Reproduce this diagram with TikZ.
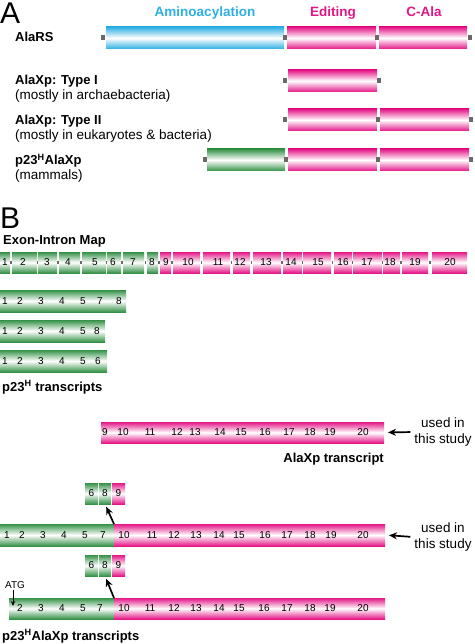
\documentclass[tikz,border=0pt]{standalone}
\usepackage{fontspec}
\setmainfont{Liberation Sans}
\definecolor{AlaCyan}{RGB}{45,175,228}
\definecolor{AlaPink}{RGB}{228,22,135}
\definecolor{AlaGreen}{RGB}{52,145,70}
\definecolor{AlaLink}{RGB}{105,105,105}
\usetikzlibrary{
    arrows.meta,
    positioning,
    calc,
}

\begin{document}
\begin{tikzpicture}[x=1pt, y=-1pt,
    tube/.style={top color=#1, bottom color=#1, middle color=white,
        inner sep=0pt, outer sep=0pt, minimum height=21pt, anchor=north west},
    head/.style={font=\fontsize{13.5}{16}\selectfont\bfseries, anchor=base, inner sep=0pt},
    lbl/.style={font=\fontsize{13}{15}\selectfont\bfseries, anchor=base west, inner sep=0pt},
    note/.style={font=\fontsize{13.5}{16}\selectfont, anchor=base west, inner sep=0pt},
    num/.style={font=\fontsize{10}{11}\selectfont, inner sep=0pt},
    panel/.style={font=\fontsize{30}{32}\selectfont, anchor=base west, inner sep=0pt},
    used/.style={font=\fontsize{13.5}{16}\selectfont, align=center, inner sep=1pt},
    arr/.style={-{Stealth[length=8pt,width=7pt]}, line width=1.7pt},
]
    \useasboundingbox (0,0) rectangle (474,644);

    % ---- A: domain architecture
    \node[panel] (pA) at (0,23.5) {A};
    \node[head, text=AlaCyan] (hAmino) at (205,17) {Aminoacylation};
    \node[head, text=AlaPink] (hEdit) at (333,17) {Editing};
    \node[head, text=AlaPink] (hCala) at (424,17) {C-Ala};

    \node[lbl] (lRS) at (15,42) {AlaRS};
    \node[lbl] (lT1) at (15,85) {AlaXp: Type I};
    \node[note] (nT1) at (15,100) {(mostly in archaebacteria)};
    \node[lbl] (lT2) at (15,125) {AlaXp: Type II};
    \node[note] (nT2) at (15,140) {(mostly in eukaryotes \& bacteria)};
    \node[lbl] (lP23) at (15,165) {p23\textsuperscript{H}AlaXp};
    \node[note] (nP23) at (15,180) {(mammals)};

    \node[tube=AlaCyan, minimum width=178pt, minimum height=22pt] (rsAmino) at (106,27) {};
    \node[tube=AlaPink, minimum width=89pt, minimum height=22pt] (rsEdit) at (287,27) {};
    \node[tube=AlaPink, minimum width=88pt, minimum height=22pt] (rsCala) at (379,27) {};
    \node[tube=AlaPink, minimum width=89pt, minimum height=22pt] (t1Edit) at (288,70) {};
    \node[tube=AlaPink, minimum width=89pt, minimum height=22pt] (t2Edit) at (288,109) {};
    \node[tube=AlaPink, minimum width=89pt, minimum height=22pt] (t2Cala) at (380,109) {};
    \node[tube=AlaGreen, minimum width=78pt, minimum height=22pt] (pN) at (207,149) {};
    \node[tube=AlaPink, minimum width=89pt, minimum height=22pt] (pEdit) at (288,149) {};
    \node[tube=AlaPink, minimum width=89pt, minimum height=22pt] (pCala) at (380,149) {};

    % linker ends
    \foreach \x/\y in {103/38, 285/38, 377/38, 470/38, 285/81, 379/81,
                       285/120, 378/120, 471/120, 205/160, 286/160, 378/160, 471/160}
        \fill[AlaLink] (\x-2,\y-2.5) rectangle (\x+2,\y+2.5);

    % ---- B: exon-intron map
    \node[panel] (pB) at (0,228) {B};
    \node[lbl] (lMap) at (3,244) {Exon-Intron Map};

    \foreach \n/\a/\b/\c in {1/0/10/5, 2/12/37/23, 3/38/57/47, 4/59/80/68,
                             5/82/106/95, 6/107/121/113, 7/123/144/133, 8/147/158/152} {
        \node[tube=AlaGreen, minimum width={(\b-\a)*1pt}] (ex\n) at (\a,252) {};
        \node[num] (exn\n) at (\c,262.5) {\n};
    }
    \foreach \n/\a/\b/\c in {9/160/171/166, 10/173/200/188, 11/203/230/218, 12/233/250/240,
                             13/253/281/266, 14/283/302/291, 15/303/331/318, 16/334/352/343,
                             17/353/382/367, 18/383/400/390, 19/402/428/415, 20/432/467/450} {
        \node[tube=AlaPink, minimum width={(\b-\a)*1pt}] (ex\n) at (\a,252) {};
        \node[num] (exn\n) at (\c,262.5) {\n};
    }
    \foreach \x in {11, 37.5, 58, 81, 106.5, 122, 145.5, 159, 172, 201.5, 231.5,
                    251.5, 282, 302.5, 332.5, 352.5, 382.5, 401, 430}
        \fill[AlaLink] (\x-0.6,261) rectangle (\x+0.6,264);

    % p23H transcripts
    \node[tube=AlaGreen, minimum width=126pt, minimum height=22pt] (tr1) at (0,290) {};
    \foreach \n/\x in {1/5, 2/20, 3/41, 4/62, 5/83, 7/100, 8/119}
        \node[num] at (\x,301) {\n};
    \node[tube=AlaGreen, minimum width=105pt, minimum height=22pt] (tr2) at (0,320) {};
    \foreach \n/\x in {1/5, 2/20, 3/41, 4/62, 5/83, 8/97}
        \node[num] at (\x,331) {\n};
    \node[tube=AlaGreen, minimum width=107pt, minimum height=22pt] (tr3) at (0,350) {};
    \foreach \n/\x in {1/5, 2/20, 3/41, 4/62, 5/83, 6/98}
        \node[num] at (\x,361) {\n};
    \node[lbl] (lTr) at (2,391) {p23\textsuperscript{H} transcripts};

    % AlaXp transcript
    \node[tube=AlaPink, minimum width=283pt] (axp) at (101,422) {};
    \foreach \n/\x in {9/105, 10/123, 11/150, 12/177, 13/195, 14/220,
                       15/241, 16/265, 17/289, 18/310, 19/330, 20/363}
        \node[num] at (\x,432.5) {\n};
    \node[used] (use1) at (443,432) {used in\\this study};
    \draw[arr, shorten <=3pt, shorten >=4pt] (use1.west) -- (axp.east);
    \node[lbl, anchor=base east] (lAxp) at (384,462) {AlaXp transcript};

    % fused transcript, used in this study
    \node[tube=AlaGreen, minimum width=13pt] (u6) at (85,483) {};
    \node[tube=AlaGreen, minimum width=12pt] (u8) at (99,483) {};
    \node[tube=AlaPink, minimum width=13pt] (u9) at (112,483) {};
    \foreach \n/\x in {6/91.5, 8/105, 9/118.5}
        \node[num] at (\x,493.5) {\n};

    \node[tube=AlaGreen, minimum width=114pt, minimum height=22pt] (f1a) at (0,524) {};
    \node[tube=AlaPink, minimum width=271pt, minimum height=22pt] (f1b) at (114,524) {};
    \foreach \n/\x in {1/7, 2/22, 3/43, 4/64, 5/85, 7/103, 10/124, 11/152, 12/174,
                       13/196, 14/219, 15/239, 16/265, 17/287, 18/310, 19/331, 20/363}
        \node[num] at (\x,535) {\n};
    \draw[arr, shorten >=3pt] (f1a.north east) -- (u8.south);
    \node[used] (use2) at (443,537) {used in\\this study};
    \draw[arr, shorten <=3pt, shorten >=4pt] (use2.west) -- (f1b.east);

    % fused transcript from ATG
    \node[tube=AlaGreen, minimum width=13pt] (d6) at (85,555) {};
    \node[tube=AlaGreen, minimum width=12pt] (d8) at (99,555) {};
    \node[tube=AlaPink, minimum width=13pt] (d9) at (112,555) {};
    \foreach \n/\x in {6/91.5, 8/105, 9/118.5}
        \node[num] at (\x,565.5) {\n};

    \node[tube=AlaGreen, minimum width=105pt] (f2a) at (9,598) {};
    \node[tube=AlaPink, minimum width=271pt] (f2b) at (114,598) {};
    \foreach \n/\x in {2/20, 3/41, 4/62, 5/83, 7/100, 10/124, 11/150, 12/174,
                       13/196, 14/219, 15/239, 16/264, 17/287, 18/310, 19/330, 20/363}
        \node[num] at (\x,608.5) {\n};
    \draw[arr, shorten >=3pt] (f2a.north east) -- (d8.south);

    \node[num, inner sep=1pt] (atg) at (15,585) {ATG};
    \coordinate (atgTip) at (13,606);
    \draw[-{Stealth[length=5pt,width=4.5pt]}, line width=1pt] (atg.south -| atgTip) -- (atgTip);

    \node[lbl] (lFus) at (2,640) {p23\textsuperscript{H}AlaXp transcripts};
\end{tikzpicture}
\end{document}
